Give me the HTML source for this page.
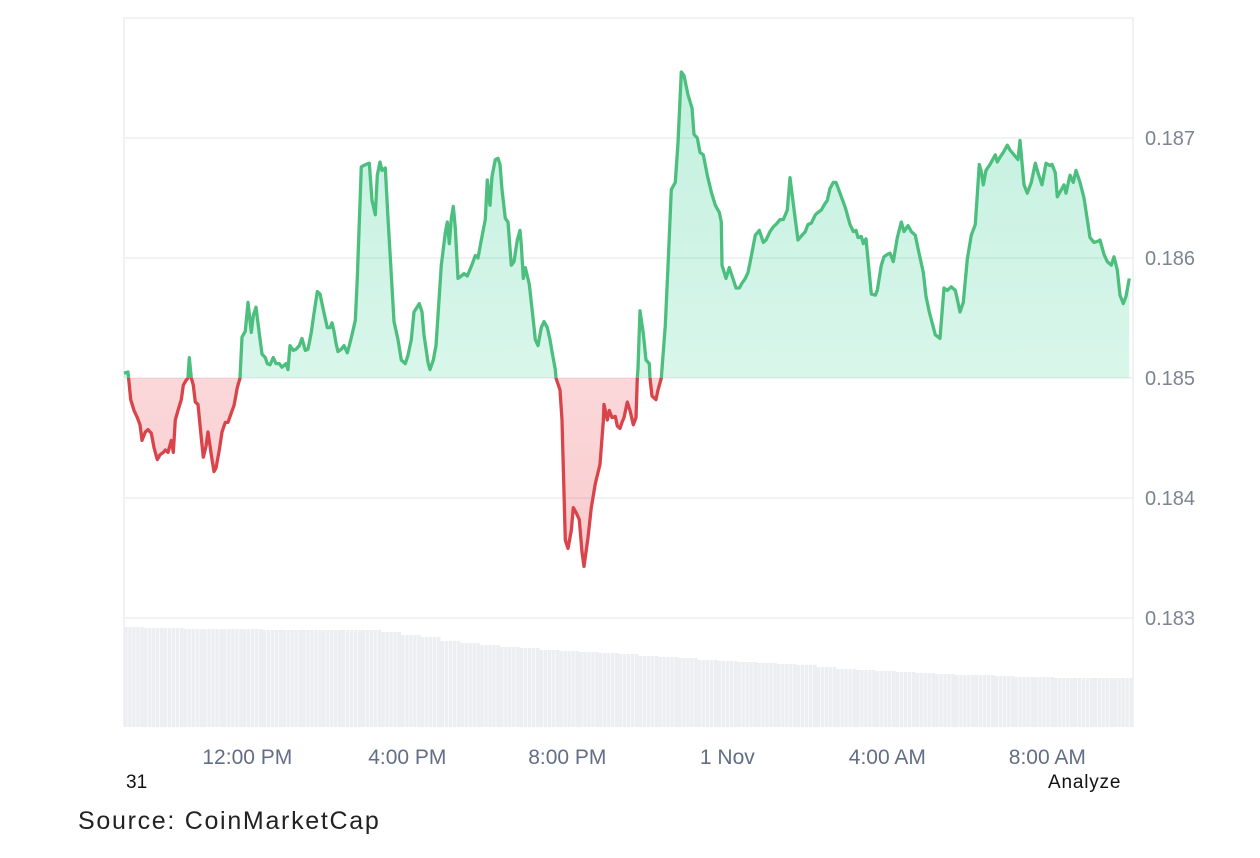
<!DOCTYPE html>
<html><head><meta charset="utf-8"><style>
body{margin:0;background:#fff;width:1260px;height:858px;overflow:hidden;font-family:"Liberation Sans",sans-serif}
svg{position:absolute;left:0;top:0}
</style></head><body>
<svg id="chart" width="1260" height="858" xmlns="http://www.w3.org/2000/svg">
<defs>
<linearGradient id="gg" x1="0" y1="0" x2="0" y2="1"><stop offset="0" stop-color="#16c784" stop-opacity="0.26"/><stop offset="1" stop-color="#16c784" stop-opacity="0.1"/></linearGradient>
<linearGradient id="rg" x1="0" y1="0" x2="0" y2="1"><stop offset="0" stop-color="#ea3943" stop-opacity="0.1"/><stop offset="1" stop-color="#ea3943" stop-opacity="0.26"/></linearGradient>
<clipPath id="above"><rect x="0" y="0" width="1260" height="378"/></clipPath>
<clipPath id="below"><rect x="0" y="378" width="1260" height="480"/></clipPath>
</defs>
<g id="grid"></g><g id="vol"></g><g id="areas"></g><g id="lines"></g><g id="labels"></g>
<text x="126" y="788" font-size="19" fill="#111">31</text>
<text x="1048" y="788" font-size="19" letter-spacing="0.8" fill="#111">Analyze</text>
<text x="78" y="829" font-size="25" letter-spacing="1.7" fill="#222">Source: CoinMarketCap</text>
</svg>
<script>
const times=[0,6,10,15,20,24,27,32,36,41,45,50,54,59,62,66,71,74,77,81,86,89,93,96,98,101,104,107,111,116,119,123,126,131,135,138,143,147,152,156,161,165,170,174,177,182,186,191,194,198,203,207,212,215,219,224,228,233,237,243,246,249,254,258,263,267,272,276,281,285,290,294,299,305,309,312,315,318,321,326,330,335,338,342,347,350,356,363,368,372,377,380,384,387,392,396,401,405,411,416,422,426,431,435,443,447,450,456,459,464,468,471,476,482,485,488,491,494,497,501,506,510,515,521,527,531,536,542,545,549,552,557,561,564,567,572,576,581,585,590,594,596,599,602,608,614,617,621,626,630,635,639,642,647,648,654,657,662,666,671,674,678,683,687,690,696,701,707,714,719,720,725,728,732,737,740,744,747,750,755,759,764,768,770,771,774,779,783,788,789,792,798,801,806,812,816,821,827,831,836,840,846,852,855,860,864,869,875,881,887,893,896,897,903,908,914,918,923,927,932,936,939,947,953,959,963,969,974,978,984,989,995,999,1007,1011,1017,1022,1026,1031,1037,1041,1046,1050,1055,1059,1064,1068,1074,1082,1089,1094,1098,1101,1106,1109,1113,1121,1127,1130,1136,1140,1145,1149,1154,1160,1166,1170,1176,1181,1187,1191,1199,1203,1208,1217,1224,1230,1235,1241,1247,1251,1254,1259,1265,1271,1277,1283,1286,1289,1293,1299,1307,1310,1314,1319,1325,1329,1335,1341,1344,1350,1355,1361,1367,1371,1377,1383,1389,1392,1397,1400,1404,1410,1413,1419,1424,1428,1434,1440,1445,1449,1455,1461,1464,1470,1475,1481,1485,1490,1494,1499,1503,1508];
const prices=[.18504,.18505,.18482,.18473,.18467,.18461,.18448,.18455,.18457,.18454,.18442,.18432,.18436,.18438,.18440,.18438,.18448,.18438,.18465,.18473,.18482,.18494,.18498,.18500,.18517,.18500,.18494,.18480,.18478,.18450,.18434,.18443,.18455,.18436,.18422,.18425,.18440,.18455,.18463,.18463,.18471,.18477,.18492,.18500,.18534,.18539,.18563,.18538,.18552,.18559,.18537,.18520,.18517,.18512,.18511,.18517,.18512,.18512,.18509,.18512,.18507,.18527,.18523,.18524,.18527,.18533,.18523,.18524,.18538,.18554,.18572,.18570,.18557,.18542,.18542,.18546,.18539,.18529,.18522,.18524,.18527,.18521,.18527,.18536,.18548,.18583,.18676,.18678,.18679,.18648,.18636,.18669,.18680,.18673,.18675,.18633,.18586,.18547,.18532,.18515,.18512,.18519,.18532,.18555,.18562,.18555,.18536,.18513,.18507,.18515,.18527,.18552,.18594,.18621,.18630,.18612,.18633,.18643,.18625,.18583,.18585,.18587,.18585,.18593,.18602,.18600,.18615,.18632,.18665,.18644,.18668,.18682,.18683,.18678,.18657,.18633,.18630,.18594,.18597,.18615,.18623,.18611,.18583,.18592,.18578,.18548,.18532,.18527,.18542,.18547,.18542,.18532,.18522,.18507,.18500,.18490,.18465,.18365,.18358,.18373,.18392,.18388,.18382,.18355,.18343,.18367,.18392,.18412,.18428,.18464,.18478,.18465,.18473,.18467,.18468,.18460,.18458,.18463,.18467,.18480,.18473,.18461,.18467,.18500,.18508,.18556,.18537,.18515,.18512,.18500,.18485,.18482,.18490,.18500,.18544,.18593,.18657,.18663,.18696,.18755,.18752,.18736,.18725,.18703,.18700,.18688,.18686,.18669,.18655,.18644,.18638,.18630,.18594,.18583,.18592,.18582,.18575,.18575,.18579,.18583,.18588,.18596,.18619,.18623,.18613,.18615,.18622,.18626,.18628,.18632,.18632,.18640,.18667,.18632,.18615,.18619,.18622,.18628,.18629,.18636,.18638,.18640,.18644,.18648,.18658,.18663,.18663,.18654,.18642,.18628,.18622,.18623,.18617,.18618,.18612,.18616,.18570,.18569,.18573,.18594,.18601,.18603,.18604,.18597,.18617,.18630,.18622,.18627,.18622,.18619,.18608,.18588,.18568,.18555,.18536,.18533,.18575,.18573,.18576,.18573,.18563,.18555,.18563,.18599,.18619,.18628,.18678,.18672,.18661,.18673,.18678,.18686,.18680,.18684,.18688,.18694,.18690,.18686,.18682,.18698,.18661,.18654,.18663,.18679,.18671,.18661,.18679,.18677,.18678,.18671,.18651,.18655,.18661,.18654,.18669,.18663,.18673,.18663,.18650,.18632,.18617,.18613,.18614,.18615,.18603,.18597,.18594,.18601,.18590,.18569,.18562,.18568,.18583];
const volumes=[100,99,99,98,98,98,98,97,97,97,97,97,97,95,92,90,86,84,82,80,79,77,76,75,74,73,71,70,69,67,66,65,64,63,62,60,58,57,56,55,54,53,52,52,51,50,50,49,49,49,49];
const yTicks=[0.183,0.184,0.185,0.186,0.187];
const xTickMinutes=[185,425,665,905,1145,1385];
const xTickLabels=["12:00 PM","4:00 PM","8:00 PM","1 Nov","4:00 AM","8:00 AM"];
const baseline=0.185;

const NS="http://www.w3.org/2000/svg";
const L=124,R=1133,T=18,VB=727;
const xs=t=>L+t/1.5;
const ys=p=>378-(p-0.185)*120000;
const vs=v=>VB-v;
function mk(tag,attrs,parent){const e=document.createElementNS(NS,tag);for(const k in attrs)e.setAttribute(k,attrs[k]);document.getElementById(parent).appendChild(e);return e;}

let f=mk('path',{d:`M${L},${VB}V${T}H${R}V${VB}`,fill:'none',stroke:'#eceef1','stroke-width':1.5},'grid');


yTicks.forEach(v=>{
 const g=mk('line',{x1:L,x2:R,y1:ys(v),y2:ys(v),stroke:'#eceef1','stroke-width':1.5},'grid');
 
 
 const t=mk('text',{x:1145,y:ys(v)+7,'font-size':20,fill:'#7d8390'},'labels');
 t.textContent=v.toFixed(3);
 
 
});
xTickMinutes.forEach((m,i)=>{
 const t=mk('text',{x:xs(m),y:764,'font-size':21,fill:'#616e85','text-anchor':'middle'},'labels');
 t.textContent=xTickLabels[i];
 
 
});
const bw=(R-L)/volumes.length;
volumes.forEach((v,i)=>{
 const b=mk('rect',{x:L+i*bw,y:vs(v),width:bw,height:v,fill:'#eceef2'},'vol');
 
 
 for(let k=1;k<5;k++){mk('line',{x1:L+i*bw+k*bw/5,x2:L+i*bw+k*bw/5,y1:vs(v),y2:VB,stroke:'#fff','stroke-width':0.8,'stroke-opacity':0.7},'vol');}
});
let d='';times.forEach((t,i)=>{d+=(i?'L':'M')+xs(t).toFixed(1)+','+ys(prices[i]).toFixed(1);});
const by=ys(baseline);
const area=d+`L${xs(times[times.length-1])},${by}L${xs(times[0])},${by}Z`;
let ag=mk('path',{d:area,fill:'url(#gg)','clip-path':'url(#above)'},'areas');


let ar=mk('path',{d:area,fill:'url(#rg)','clip-path':'url(#below)'},'areas');


let lg=mk('path',{d:d,fill:'none',stroke:'#4cbf7e','stroke-width':3.3,'stroke-linejoin':'round','clip-path':'url(#above)'},'lines');


let lr=mk('path',{d:d,fill:'none',stroke:'#d9444a','stroke-width':3.3,'stroke-linejoin':'round','clip-path':'url(#below)'},'lines');


</script>
</body></html>
